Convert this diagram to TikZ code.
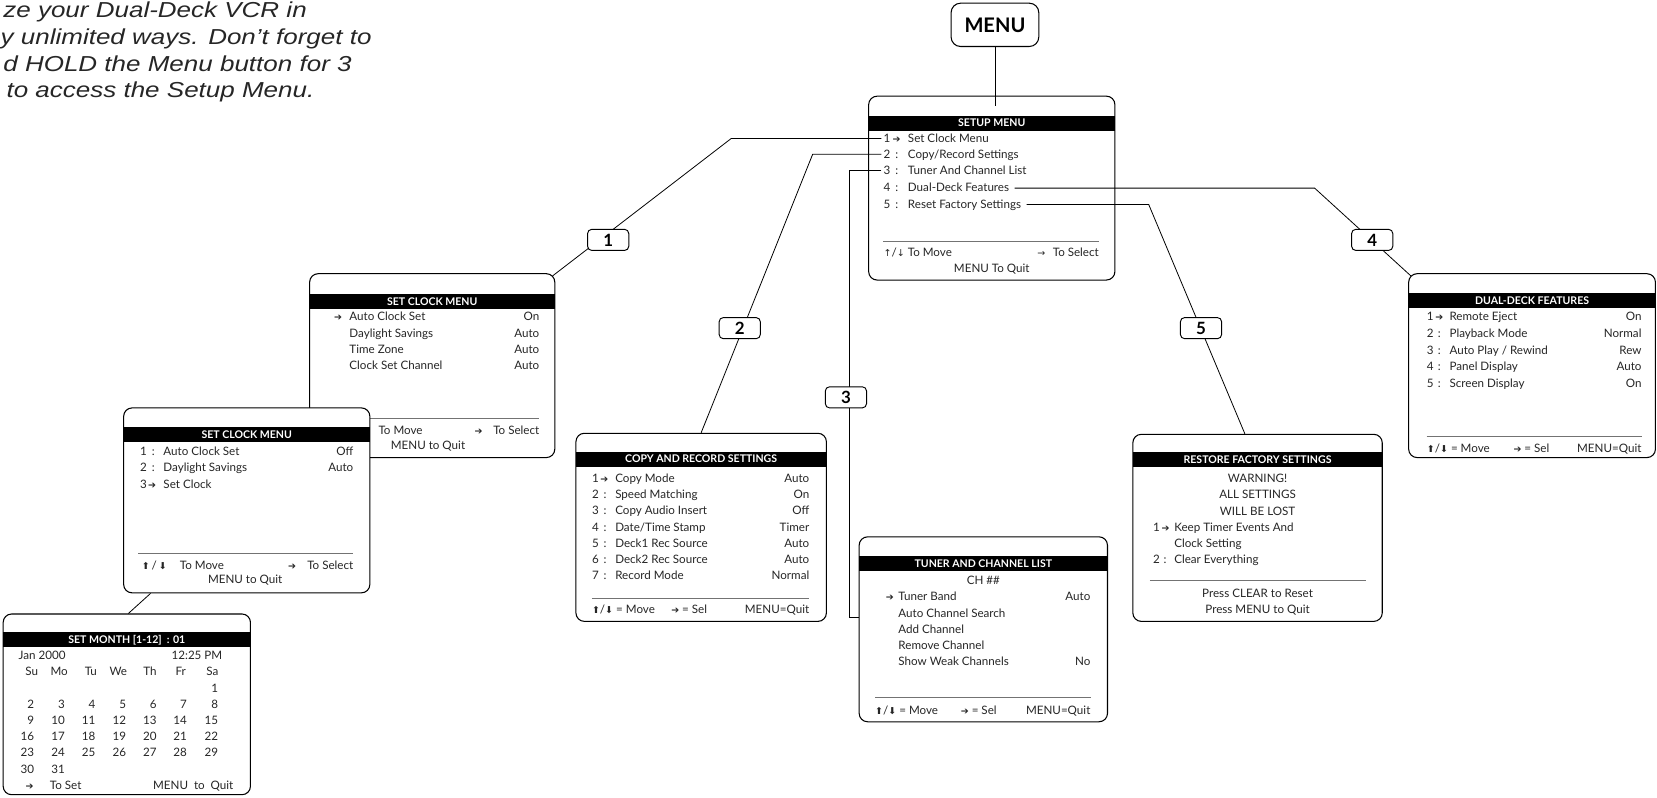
\documentclass[tikz,border=0pt]{standalone}
\usepackage{fontspec}
\setmainfont{Lato}
\newfontfamily\introfont[FakeStretch=1.2]{Liberation Sans}
\newfontfamily\arrfont{DejaVu Sans}
\newcommand{\symb}[1]{{\arrfont\fontsize{9}{9}\selectfont #1}}
\usetikzlibrary{calc}
\begin{document}
\begin{tikzpicture}[x=1pt,y=-1pt,
 menubox/.style={draw, line width=1pt, rounded corners=8pt, fill=white, inner sep=0pt},
 hdr/.style={fill=black, text=white, inner sep=0pt, minimum height=14pt, text height=7.2pt, text depth=0pt, font=\bfseries\fontsize{10}{12}\selectfont},
 mt/.style={inner sep=0pt, text height=8pt, text depth=0pt, anchor=west, font=\fontsize{11}{13}\selectfont, text=black!85},
 mtr/.style={mt, anchor=east},
 mtc/.style={mt, anchor=center},
 rl/.style={line width=0.6pt, draw=black!55},
 conn/.style={line width=0.75pt},
 lbl/.style={draw, line width=0.9pt, rounded corners=4pt, fill=white, minimum width=39pt, minimum height=20pt, inner sep=0pt, font=\bfseries\fontsize{16}{16}\selectfont},
 intro/.style={inner sep=0pt, anchor=base west, font=\introfont\itshape\fontsize{20.5}{24}\selectfont, text=black!85},
]
\useasboundingbox (0,0) rectangle (1568,755);

% intro text
\node[intro] (i1) at (3,17) {ze your Dual-Deck VCR in};
\node[intro] (i2) at (0.5,42) {y unlimited ways. Don’t forget to};
\node[intro] (i3) at (3,67.3) {d HOLD the Menu button for 3};
\node[intro] (i4) at (6,92.6) {to access the Setup Menu.};

% ---------- SET CLOCK MENU (upper)
\node[menubox, minimum width=232pt, minimum height=174pt] (clk1) at (409,346) {};
\node[hdr, minimum width=232pt] (clk1h) at (409,285.5) {SET CLOCK MENU};
\node[mt] (c1a) at (316,299.5) {\symb{➔}};
\node[mt] (c1t1) at (330.5,299.5) {Auto Clock Set};
\node[mtr] (c1v1) at (510.5,299.5) {On};
\node[mt] (c1t2) at (330.5,315) {Daylight Savings};
\node[mtr] (c1v2) at (510.5,315) {Auto};
\node[mt] (c1t3) at (330.5,330.5) {Time Zone};
\node[mtr] (c1v3) at (510.5,330.5) {Auto};
\node[mt] (c1t4) at (330.5,346) {Clock Set Channel};
\node[mtr] (c1v4) at (510.5,346) {Auto};
\draw[rl] (308,396) -- (510.5,396);
\node[mt] (c1m) at (358,407.5) {To Move};
\node[mt] (c1s) at (449,407.5) {\symb{➔}};
\node[mtr] (c1sel) at (510.5,407.5) {To Select};
\node[mtc] (c1q) at (405,421) {MENU to Quit};

% ---------- SET CLOCK MENU (lower)
\node[menubox, minimum width=233pt, minimum height=175pt] (clk2) at (233.5,473.5) {};
\node[hdr, minimum width=233pt] (clk2h) at (233.5,411) {SET CLOCK MENU};
\node[mt] (c2n1) at (132.5,427.5) {1};
\node[mt] (c2k1) at (143.5,427.5) {:};
\node[mt] (c2t1) at (154.5,427.5) {Auto Clock Set};
\node[mtr] (c2v1) at (334.5,427.5) {Off};
\node[mt] (c2n2) at (132.5,442.5) {2};
\node[mt] (c2k2) at (143.5,442.5) {:};
\node[mt] (c2t2) at (154.5,442.5) {Daylight Savings};
\node[mtr] (c2v2) at (334.5,442.5) {Auto};
\node[mt] (c2n3) at (132.5,458) {3};
\node[mt] (c2a3) at (140,458) {\symb{➔}};
\node[mt] (c2t3) at (154.5,458) {Set Clock};
\draw[rl] (131,524) -- (334.5,524);
\node[mt] (c2ud) at (134,534.5) {\symb{⬆}\,/\,\symb{⬇}};
\node[mt] (c2m) at (170,534.5) {To Move};
\node[mt] (c2s) at (272.5,534.5) {\symb{➔}};
\node[mtr] (c2sel) at (334.5,534.5) {To Select};
\node[mtc] (c2q) at (232,548) {MENU to Quit};

% ---------- calendar
\node[menubox, minimum width=234pt, minimum height=171pt] (cal) at (120,666.5) {};
\node[hdr, minimum width=234pt] (calh) at (120,605.5) {SET MONTH [1-12]\ \ : 01};
\node[mt] (calj) at (17.5,620) {Jan 2000};
\node[mtr] (calt) at (210.5,620) {12:25 PM};
\foreach \dn [count=\k from 0] in {Su,Mo,Tu,We,Th,Fr,Sa}{
  \pgfmathsetmacro{\dx}{{30,56,86,112,142,171,201}[\k]}
  \node[mtc] (dn\k) at (\dx,635.5) {\dn};
}
\foreach \d in {1,...,31}{
  \pgfmathtruncatemacro{\col}{mod(\d+5,7)}
  \pgfmathtruncatemacro{\row}{(\d+5)/7}
  \pgfmathsetmacro{\dx}{{32.5,61.5,90.5,119.5,148.5,177,206.5}[\col]}
  \pgfmathsetmacro{\dy}{651+15.3*\row}
  \node[mtr] (d\d) at (\dx,\dy) {\d};
}
\node[mt] (cala) at (24,743) {\symb{➔}};
\node[mt] (cals) at (47,743) {To Set};
\node[mtr] (calq) at (221,743) {MENU\ \ to\ \ Quit};

% ---------- COPY AND RECORD SETTINGS
\node[menubox, minimum width=237pt, minimum height=178pt] (copy) at (663.5,499) {};
\node[hdr, minimum width=237pt] (copyh) at (663.5,434.5) {COPY AND RECORD SETTINGS};
\node[mt] (cpn1) at (560,452.5) {1};
\node[mt] (cpa1) at (568,452.5) {\symb{➔}};
\node[mt] (cpt1) at (582,452.5) {Copy Mode};
\node[mtr] (cpv1) at (766,452.5) {Auto};
\node[mt] (cpn2) at (560,467.5) {2};
\node[mt] (cpk2) at (571,467.5) {:};
\node[mt] (cpt2) at (582,467.5) {Speed Matching};
\node[mtr] (cpv2) at (766,467.5) {On};
\node[mt] (cpn3) at (560,483) {3};
\node[mt] (cpk3) at (571,483) {:};
\node[mt] (cpt3) at (582,483) {Copy Audio Insert};
\node[mtr] (cpv3) at (766,483) {Off};
\node[mt] (cpn4) at (560,498.5) {4};
\node[mt] (cpk4) at (571,498.5) {:};
\node[mt] (cpt4) at (582,498.5) {Date/Time Stamp};
\node[mtr] (cpv4) at (766,498.5) {Timer};
\node[mt] (cpn5) at (560,514) {5};
\node[mt] (cpk5) at (571,514) {:};
\node[mt] (cpt5) at (582,514) {Deck1 Rec Source};
\node[mtr] (cpv5) at (766,514) {Auto};
\node[mt] (cpn6) at (560,529) {6};
\node[mt] (cpk6) at (571,529) {:};
\node[mt] (cpt6) at (582,529) {Deck2 Rec Source};
\node[mtr] (cpv6) at (766,529) {Auto};
\node[mt] (cpn7) at (560,544.5) {7};
\node[mt] (cpk7) at (571,544.5) {:};
\node[mt] (cpt7) at (582,544.5) {Record Mode};
\node[mtr] (cpv7) at (766,544.5) {Normal};
\draw[rl] (560,566) -- (766,566);
\node[mt] (cpf1) at (560,577) {\symb{⬆}/\symb{⬇} = Move};
\node[mt] (cpf2) at (635,577) {\symb{➔} = Sel};
\node[mtr] (cpf3) at (766,577) {MENU=Quit};

% ---------- TUNER AND CHANNEL LIST
\node[menubox, minimum width=235pt, minimum height=175pt] (tuner) at (930.5,595.5) {};
\node[hdr, minimum width=235pt] (tunerh) at (930.5,533) {TUNER AND CHANNEL LIST};
\node[mtc] (tch) at (930.5,549.5) {CH \#\#};
\node[mt] (tua) at (838,564.5) {\symb{➔}};
\node[mt] (tut1) at (850,564.5) {Tuner Band};
\node[mtr] (tuv1) at (1032,564.5) {Auto};
\node[mt] (tut2) at (850,580) {Auto Channel Search};
\node[mt] (tut3) at (850,595) {Add Channel};
\node[mt] (tut4) at (850,610.5) {Remove Channel};
\node[mt] (tut5) at (850,626) {Show Weak Channels};
\node[mtr] (tuv5) at (1032,626) {No};
\draw[rl] (828,660) -- (1032,660);
\node[mt] (tuf1) at (828,672) {\symb{⬆}/\symb{⬇} = Move};
\node[mt] (tuf2) at (909,672) {\symb{➔} = Sel};
\node[mtr] (tuf3) at (1032,672) {MENU=Quit};

% ---------- RESTORE FACTORY SETTINGS
\node[menubox, minimum width=236pt, minimum height=177pt] (restore) at (1190,499.5) {};
\node[hdr, minimum width=236pt] (restoreh) at (1190,435) {RESTORE FACTORY SETTINGS};
\node[mtc] (rw1) at (1190,452.5) {WARNING!};
\node[mtc] (rw2) at (1190,468) {ALL SETTINGS};
\node[mtc] (rw3) at (1190,483.5) {WILL BE LOST};
\node[mt] (rn1) at (1091,498.5) {1};
\node[mt] (ra1) at (1099,498.5) {\symb{➔}};
\node[mt] (rt1) at (1111,498.5) {Keep Timer Events And};
\node[mt] (rt1b) at (1111,514) {Clock Setting};
\node[mt] (rn2) at (1091,529.5) {2};
\node[mt] (rk2) at (1101,529.5) {:};
\node[mt] (rt2) at (1111,529.5) {Clear Everything};
\draw[rl] (1088,549) -- (1293,549);
\node[mtc] (rp1) at (1190,561) {Press CLEAR to Reset};
\node[mtc] (rp2) at (1190,576.5) {Press MENU to Quit};

% ---------- DUAL-DECK FEATURES
\node[menubox, minimum width=233.5pt, minimum height=174pt] (dual) at (1449.75,346) {};
\node[hdr, minimum width=233.5pt] (dualh) at (1449.75,284.5) {DUAL-DECK FEATURES};
\node[mt] (dn1) at (1350,299.5) {1};
\node[mt] (da1) at (1358,299.5) {\symb{➔}};
\node[mt] (dt1) at (1371.5,299.5) {Remote Eject};
\node[mtr] (dv1) at (1553.5,299.5) {On};
\node[mt] (dn2) at (1350,315.5) {2};
\node[mt] (dk2) at (1360.5,315.5) {:};
\node[mt] (dt2) at (1371.5,315.5) {Playback Mode};
\node[mtr] (dv2) at (1553.5,315.5) {Normal};
\node[mt] (dn3) at (1350,331) {3};
\node[mt] (dk3) at (1360.5,331) {:};
\node[mt] (dt3) at (1371.5,331) {Auto Play / Rewind};
\node[mtr] (dv3) at (1553.5,331) {Rew};
\node[mt] (dn4) at (1350,347) {4};
\node[mt] (dk4) at (1360.5,347) {:};
\node[mt] (dt4) at (1371.5,347) {Panel Display};
\node[mtr] (dv4) at (1553.5,347) {Auto};
\node[mt] (dn5) at (1350,362.5) {5};
\node[mt] (dk5) at (1360.5,362.5) {:};
\node[mt] (dt5) at (1371.5,362.5) {Screen Display};
\node[mtr] (dv5) at (1553.5,362.5) {On};
\draw[rl] (1350,413) -- (1553.5,413);
\node[mt] (df1) at (1350,424) {\symb{⬆}/\symb{⬇} = Move};
\node[mt] (df2) at (1432,424) {\symb{➔} = Sel};
\node[mtr] (df3) at (1553.5,424) {MENU=Quit};

% ---------- SETUP MENU
\node[menubox, minimum width=233pt, minimum height=174pt] (setup) at (938.5,178) {};
\node[hdr, minimum width=233pt] (setuph) at (938.5,116.5) {SETUP MENU};
\node[mt] (sn1) at (836,131) {1};
\node[mt] (sa1) at (844.5,131) {\symb{➔}};
\node[mt] (st1) at (859,131) {Set Clock Menu};
\node[mt] (sn2) at (836,146) {2};
\node[mt] (sk2) at (847,146) {:};
\node[mt] (st2) at (859,146) {Copy/Record Settings};
\node[mt] (sn3) at (836,161.5) {3};
\node[mt] (sk3) at (847,161.5) {:};
\node[mt] (st3) at (859,161.5) {Tuner And Channel List};
\node[mt] (sn4) at (836,177) {4};
\node[mt] (sk4) at (847,177) {:};
\node[mt] (st4) at (859,177) {Dual-Deck Features};
\node[mt] (sn5) at (836,193) {5};
\node[mt] (sk5) at (847,193) {:};
\node[mt] (st5) at (859,193) {Reset Factory Settings};
\draw[rl] (836,228) -- (1040,228);
\node[mt] (sf1) at (836,238.5) {\symb{↑}/\symb{↓} To Move};
\node[mtr] (sf2) at (1040,238.5) {\symb{→}\hspace{7pt}To Select};
\node[mtc] (sf3) at (938.5,254) {MENU To Quit};

% ---------- MENU button
\node[menubox, minimum width=83pt, minimum height=41pt, rounded corners=9pt, font=\bfseries\fontsize{19}{20}\selectfont] (menu) at (941.5,23.5) {MENU};

% ---------- connectors
\coordinate (b1) at (692,131);
\coordinate (b2) at (769,146);
\coordinate (b3a) at (804,161.5);
\coordinate (b3b) at (804,584.5);
\coordinate (b4) at (1244,178);
\coordinate (b5) at (1087,193.5);
\draw[conn] (menu.south) -- ($(menu.south |- setup.north)+(0,10)$);
\draw[conn] ($(sn1.west)+(-2,0)$) -- (b1) -- ($(clk1.north east)+(-2.5,2.5)$);
\draw[conn] ($(sn2.west)+(-2,0)$) -- (b2) -- (copy.north);
\draw[conn] ($(sn3.west)+(-2,0)$) -- (b3a) -- (b3b) -- (b3b -| tuner.west);
\draw[conn] ($(st4.east)+(5,1)$) -- (b4) -- ($(dual.north west)+(2.5,2.5)$);
\draw[conn] ($(st5.east)+(5,0.5)$) -- (b5) -- ($(restore.north)+(-12,0)$);
\draw[conn] ($(clk2.south west)+(26,0)$) -- ($(cal.north west)+(119,0)$);

% ---------- labels
\node[lbl] (L1) at (575.5,227) {1};
\node[lbl] (L2) at (700,310.5) {2};
\node[lbl] (L3) at (800.5,376) {3};
\node[lbl] (L4) at (1298.5,227) {4};
\node[lbl] (L5) at (1136.5,310.5) {5};
\end{tikzpicture}
\end{document}
